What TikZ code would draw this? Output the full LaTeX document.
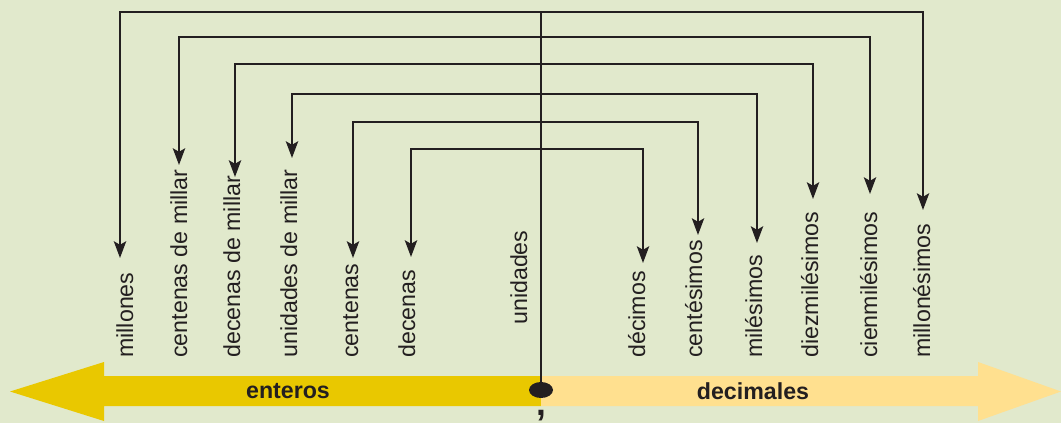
\documentclass[tikz,border=0pt]{standalone}
\usepackage{fontspec}
\setmainfont{Liberation Sans}
\usetikzlibrary{arrows.meta, shapes.geometric}

\definecolor{fondo}{RGB}{225,233,204}
\definecolor{tinta}{RGB}{35,31,32}
\definecolor{oro}{RGB}{233,200,0}
\definecolor{crema}{RGB}{255,224,143}

\tikzstyle{orden} = [rotate=90, anchor=base west, inner sep=0pt, text=tinta, font=\fontsize{13.2}{15}\selectfont]
\tikzstyle{parte} = [inner sep=0pt, text=tinta, font=\bfseries\fontsize{13.2}{15}\selectfont]
\tikzstyle{eje} = [line width=1.2pt, draw=tinta]
\tikzstyle{flecha} = [eje, <->, >={Stealth[length=9.5pt,width=7pt,inset=2pt]}]

\begin{document}
\begin{tikzpicture}[x=0.02cm, y=-0.02cm]
	\fill[fondo] (0,0) rectangle (1061,423);
	\useasboundingbox (0,0) rectangle (1061,423);

	% bands: integer part to the left, decimal part to the right
	\fill[oro] (541,376) -- (104,376) -- (104,362) -- (10,391.5) -- (104,421) -- (104,406) -- (541,406) -- cycle;
	\fill[crema] (541,376) -- (978,376) -- (978,362) -- (1061,391.5) -- (978,421) -- (978,406) -- (541,406) -- cycle;
	\node (enteros) [parte] at (288,391) {enteros};
	\node (decimales) [parte] at (753,391) {decimales};

	% decimal point and comma
	\node (punto) [ellipse, fill=tinta, inner sep=0pt, minimum width=0.48cm, minimum height=0.32cm] at (541,390) {};
	\node (coma) [parte, font=\bfseries\fontsize{20}{20}\selectfont] at (541,416) {,};

	% place names
	\node (millones) [orden] at (133,358) {millones};
	\node (cmillar) [orden] at (187,358) {centenas de millar};
	\node (dmillar) [orden] at (240,358) {decenas de millar};
	\node (umillar) [orden] at (297,358) {unidades de millar};
	\node (centenas) [orden] at (358,358) {centenas};
	\node (decenas) [orden] at (415,358) {decenas};
	\node (unidades) [orden] at (527,325) {unidades};
	\node (decimos) [orden] at (645,358) {décimos};
	\node (centesimos) [orden] at (702,358) {centésimos};
	\node (milesimos) [orden] at (762,358) {milésimos};
	\node (diezmil) [orden] at (818,358) {diezmilésimos};
	\node (cienmil) [orden] at (877,358) {cienmilésimos};
	\node (millonesimos) [orden] at (930,358) {millonésimos};

	% arrow ends and crossings on the axis
	\coordinate (n1) at (541,12);
	\coordinate (n2) at (541,37);
	\coordinate (n3) at (541,64);
	\coordinate (n4) at (541,94);
	\coordinate (n5) at (541,122);
	\coordinate (n6) at (541,149);
	\coordinate (aMillones) at (120,258);
	\coordinate (aCmillar) at (179,165);
	\coordinate (aDmillar) at (235,177);
	\coordinate (aUmillar) at (292,158);
	\coordinate (aCentenas) at (353,258);
	\coordinate (aDecenas) at (411,257);
	\coordinate (aDecimos) at (643,263);
	\coordinate (aCentesimos) at (698,235);
	\coordinate (aMilesimos) at (757,243);
	\coordinate (aDiezmil) at (813,199);
	\coordinate (aCienmil) at (870,194);
	\coordinate (aMillonesimos) at (923,210);

	\draw [eje] (n1) -- (punto);
	\draw [flecha] (aMillones) |- (n1) -| (aMillonesimos);
	\draw [flecha] (aCmillar) |- (n2) -| (aCienmil);
	\draw [flecha] (aDmillar) |- (n3) -| (aDiezmil);
	\draw [flecha] (aUmillar) |- (n4) -| (aMilesimos);
	\draw [flecha] (aCentenas) |- (n5) -| (aCentesimos);
	\draw [flecha] (aDecenas) |- (n6) -| (aDecimos);
\end{tikzpicture}
\end{document}
